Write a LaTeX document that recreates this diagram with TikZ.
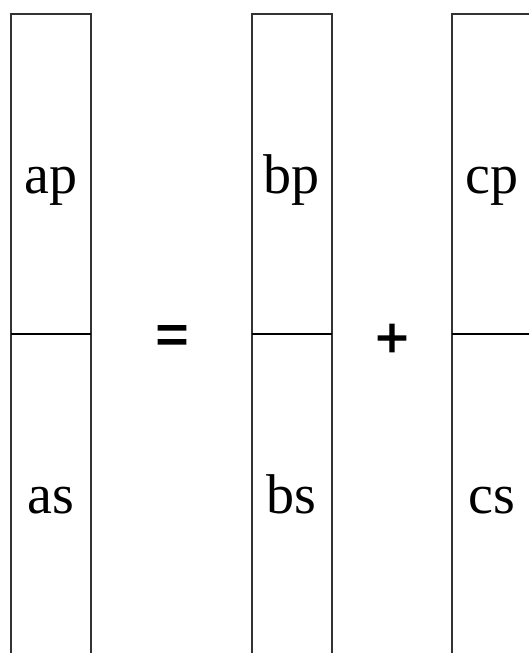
\documentclass[tikz,border=0pt]{standalone}
\usepackage{fontspec}
\setmainfont{Liberation Serif}
\newfontfamily\opfont[FakeBold=2.5]{Liberation Sans}
\begin{document}
\begin{tikzpicture}[x=1pt,y=-1pt,
  cell/.style={draw=black!80,line width=2pt,minimum width=80pt,minimum height=640pt,inner sep=0pt,outer sep=0pt},
  lbl/.style={anchor=base,inner sep=0pt,font=\fontsize{56}{60}\selectfont},
  op/.style={anchor=center,inner sep=0pt,font=\opfont\fontsize{56}{60}\selectfont}]
\useasboundingbox (0,0) rectangle (529,653);
\clip (0,0) rectangle (529,653);
% cells
\node[cell] (A) at (51.3,334) {};
\node[cell] (B) at (291.5,334) {};
\node[cell] (C) at (491.7,334) {};
% half dividers
\coordinate (Aw) at (11.3,334); \coordinate (Ae) at (91.3,334);
\coordinate (Bw) at (251.5,334); \coordinate (Be) at (331.5,334);
\coordinate (Cw) at (451.7,334); \coordinate (Ce) at (531.7,334);
\draw[line width=1.4pt] (Aw) -- (Ae);
\draw[line width=1.4pt] (Bw) -- (Be);
\draw[line width=1.4pt] (Cw) -- (Ce);
% labels
\node[lbl] (ap) at (51.3,193) {ap};
\node[lbl] (as) at (51.3,513) {as};
\node[lbl] (bp) at (291.5,193) {bp};
\node[lbl] (bs) at (291.5,513) {bs};
\node[lbl] (cp) at (491.7,193) {cp};
\node[lbl] (cs) at (491.7,513) {cs};
% operators
\node[op] (eq) at (172,339.5) {=};
\node[op] (plus) at (392,340.5) {+};
\end{tikzpicture}
\end{document}
